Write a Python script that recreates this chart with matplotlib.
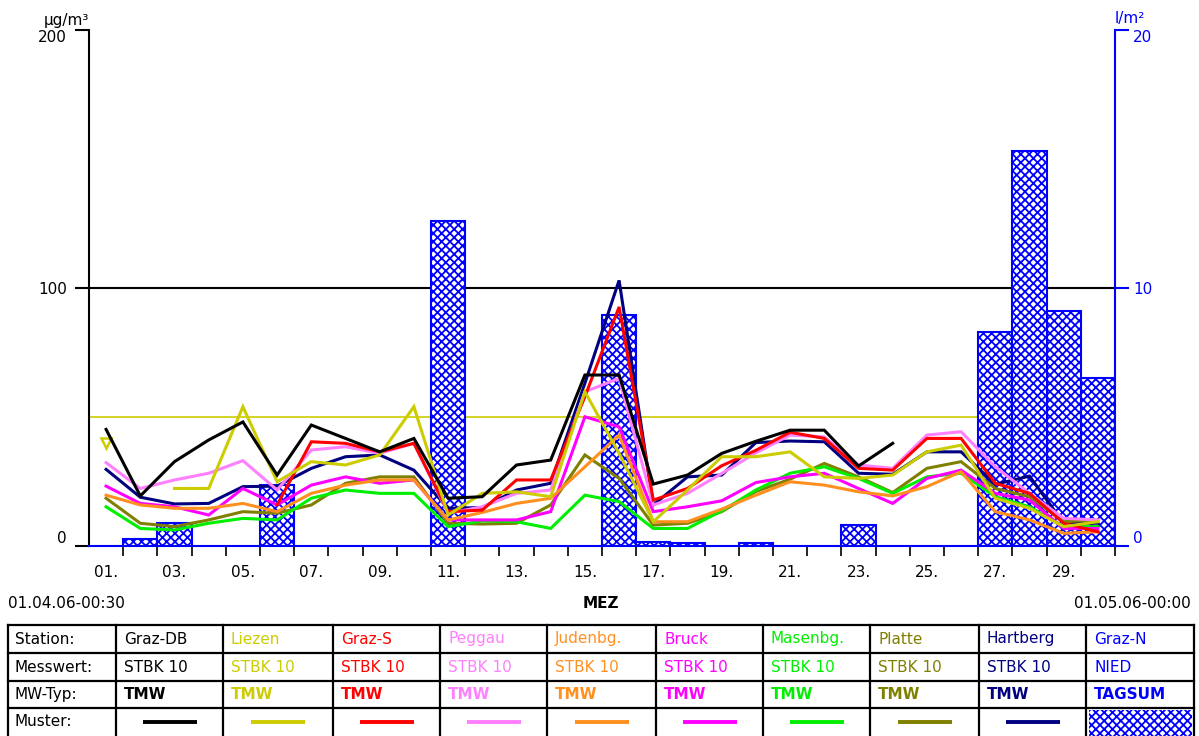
import numpy as np
import matplotlib
matplotlib.use('Agg')
import matplotlib.pyplot as plt
from matplotlib.patches import Rectangle
from matplotlib.lines import Line2D

plt.rcParams['font.family'] = ['DejaVu Sans']
plt.rcParams['hatch.linewidth'] = 1.3

nan = np.nan
days = np.arange(1, 31)
day_labels = [f"{d:02d}." for d in range(1, 31, 2)]

graz_db = [45.1, 19.3, 32.6, 41.0, 48.0, 27.4, 46.8, 41.6, 36.4, 41.6, 18.4, 19.0, 31.3, 33.2, 66.2, 66.2,
           23.9, 27.4, 35.8, 40.5, 44.8, 44.8, 30.9, 39.7, nan, nan, nan, nan, nan, nan]
liezen = [39.7, nan, 22.2, 22.2, 53.9, 24.8, 32.6, 31.3, 35.2, 53.9, 11.9, 20.3, 20.9, 19.0, 59.7, 35.8,
          9.3, 21.6, 34.5, 34.5, 36.4, 26.7, 26.1, 27.4, 36.4, 39.0, 18.4, 14.5, 7.4, 9.3]
graz_s = [nan, nan, nan, nan, nan, 15.8, 40.3, 39.7, 36.4, 39.7, 13.2, 13.8, 25.5, 25.5, 57.8, 92.6,
          17.7, 22.2, 31.0, 37.0, 44.0, 41.6, 30.0, 29.3, 41.6, 41.6, 24.2, 20.3, 8.7, 5.4]
peggau = [32.2, 22.2, 25.5, 28.1, 33.0, 21.6, 37.1, 38.4, 35.8, 39.7, 12.6, 15.1, 20.3, 21.6, 59.7, 64.9,
          15.8, 20.3, 28.0, 36.0, 42.9, 42.2, 31.3, 30.0, 42.9, 44.2, 30.6, 20.3, 10.6, 10.0]
judenbg = [19.6, 15.8, 14.5, 14.5, 16.4, 13.2, 20.3, 23.5, 25.5, 25.5, 10.0, 12.9, 16.4, 18.4, 30.6, 42.9,
           9.3, 9.3, 14.2, 19.6, 24.8, 23.5, 20.9, 19.3, 22.9, 28.7, 13.2, 10.0, 4.8, 5.4]
bruck = [23.1, 16.4, 15.1, 11.9, 22.2, 15.8, 23.5, 26.7, 24.2, 25.5, 10.0, 10.0, 10.0, 13.2, 50.0, 46.1,
         13.2, 15.1, 17.4, 24.5, 26.7, 28.1, 22.2, 16.4, 26.1, 29.3, 20.3, 17.7, 6.7, 6.7]
masenbg = [15.1, 6.7, 6.1, 8.7, 10.6, 10.0, 18.4, 21.6, 20.3, 20.3, 7.4, 9.6, 9.3, 6.7, 19.6, 17.1,
           6.7, 6.7, 13.5, 21.6, 28.1, 30.6, 26.1, 20.3, 26.7, 28.1, 19.0, 15.1, 7.4, 7.4]
platte = [18.4, 8.7, 7.4, 10.0, 13.2, 12.6, 15.8, 24.2, 26.7, 26.7, 8.7, 8.4, 8.7, 15.8, 35.2, 26.1,
          8.0, 8.7, 13.2, 21.0, 25.8, 31.9, 26.7, 20.6, 30.0, 32.6, 22.2, 19.0, 9.3, 10.0]
hartberg = [29.6, 18.8, 16.2, 16.4, 22.9, 23.1, 30.0, 34.5, 35.2, 29.3, 14.5, 14.8, 21.6, 24.2, 63.0, 102.9,
            15.8, 26.7, 27.4, 40.0, 40.6, 40.3, 28.1, 27.7, 36.4, 36.4, 23.8, 27.0, 8.7, 8.7]
graz_n_precip = [0, 0.25, 0.87, 0, 0, 2.35, 0, 0, 0, 0, 12.6, 0, 0, 0, 0, 8.94,
                 0.15, 0.1, 0, 0.1, 0, 0, 0.8, 0, 0, 0, 8.3, 15.3, 9.1, 6.5]

limit_value = 50
ref_value = 100

stations = ["Graz-DB", "Liezen", "Graz-S", "Peggau", "Judenbg.", "Bruck", "Masenbg.", "Platte", "Hartberg", "Graz-N"]
messwert = ["STBK 10"] * 9 + ["NIED"]
mwtyp = ["TMW"] * 9 + ["TAGSUM"]
row_labels = ["Station:", "Messwert:", "MW-Typ:", "Muster:"]
colors = ["#000000", "#CCCC00", "#FF0000", "#FF80FF", "#FF9020", "#FF00FF", "#00EE00", "#808000", "#000080", "#0000FF"]
series = [graz_db, liezen, graz_s, peggau, judenbg, bruck, masenbg, platte, hartberg]

W, H = 1199, 736
fig = plt.figure(figsize=(W / 100, H / 100), dpi=100)
L, R, T, B = 89, 1115, 30, 545.7
rect = [L / W, 1 - B / H, (R - L) / W, (B - T) / H]
FS = 11

ax = fig.add_axes(rect)
ax.set_xlim(0.5, 30.5)
ax.set_ylim(0, 200)
ax.axhline(ref_value, color='black', lw=1.5, zorder=1)
ax.axhline(limit_value, color='#CCCC00', lw=1.2, zorder=1)
for s in ['top', 'right']:
    ax.spines[s].set_visible(False)
ax.spines['left'].set_linewidth(1.5)
ax.spines['bottom'].set_color('#0000FF')
ax.spines['bottom'].set_linewidth(1.5)
ax.set_yticks([0, 100, 200])
ax.set_yticklabels(['0', '100', '200'])
ax.tick_params(axis='y', length=10, width=1.5, pad=6, labelsize=FS)
labs = ax.get_yticklabels()
labs[0].set_va('bottom')
labs[2].set_va('top')
ax.yaxis.get_major_ticks()[0].tick1line.set_color('#0000FF')
ax.set_xticks(np.arange(1, 31, 2))
ax.set_xticklabels(day_labels)
ax.set_xticks(np.arange(1.5, 31, 1), minor=True)
ax.tick_params(axis='x', which='major', length=0, pad=14, labelsize=FS)
ax.tick_params(axis='x', which='minor', length=7, width=1.2, color='black')

ax2 = ax.twinx()
ax2.set_ylim(0, 20)
ax2.set_xlim(0.5, 30.5)
pr = np.array(graz_n_precip, dtype=float)
mask = pr > 0
ax2.bar(days[mask], pr[mask], width=1.0, facecolor='white', edgecolor='#0000FF',
        hatch='xxxx', linewidth=1.5)
for s in ['top', 'left', 'bottom']:
    ax2.spines[s].set_visible(False)
ax2.spines['right'].set_color('#0000FF')
ax2.spines['right'].set_linewidth(1.5)
ax2.set_yticks([0, 10, 20])
ax2.set_yticklabels(['0', '10', '20'])
ax2.tick_params(axis='y', length=10, width=1.5, pad=3, labelsize=FS, color='#0000FF', labelcolor='#0000FF')
labs2 = ax2.get_yticklabels()
labs2[0].set_va('bottom')
labs2[2].set_va('top')

ax3 = ax.twinx()
ax3.set_ylim(0, 200)
ax3.set_xlim(0.5, 30.5)
ax3.axis('off')
for vals, c in reversed(list(zip(series, colors[:9]))):
    v = np.array(vals, dtype=float)
    ax3.plot(days, v, color=c, lw=2.2, solid_joinstyle='miter')
    fin = np.isfinite(v)
    prev = np.r_[False, fin[:-1]]
    nxt = np.r_[fin[1:], False]
    iso = fin & ~prev & ~nxt
    if iso.any():
        ax3.plot(days[iso], v[iso], ls='none', marker='v', ms=7, mfc='none', mec=c, mew=1.8)

def ft(x, y, s, **kw):
    fig.text(x / W, 1 - y / H, s, fontsize=kw.pop('fontsize', FS), **kw)

ft(89, 20, "µg/m³", ha='right', va='center')
ft(1115, 18, "l/m²", ha='left', va='center', color='#0000FF')
ft(8, 604, "01.04.06-00:30", ha='left', va='center')
ft(601, 604, "MEZ", ha='center', va='center', fontweight='bold')
ft(1191, 604, "01.05.06-00:00", ha='right', va='center')

axT = fig.add_axes([0, 0, 1, 1], zorder=5)
axT.set_xlim(0, W)
axT.set_ylim(H, 0)
axT.axis('off')
cols = [8, 116, 223, 333, 440, 547, 656, 763, 870, 979, 1086, 1194]
rows = [625, 653, 681, 708, 745]
for y in rows:
    axT.add_line(Line2D([cols[0], cols[-1]], [y, y], color='black', lw=1.6))
for x in cols:
    axT.add_line(Line2D([x, x], [rows[0], rows[-1]], color='black', lw=1.6))
for i, lab in enumerate(row_labels):
    yc = (rows[i] + rows[i + 1]) / 2
    if i == 3:
        yc = 721
    axT.text(cols[0] + 7, yc, lab, ha='left', va='center', fontsize=FS)
for j in range(10):
    x0 = cols[j + 1] + 8
    c = colors[j]
    axT.text(x0, (rows[0] + rows[1]) / 2, stations[j], ha='left', va='center', fontsize=FS, color=c)
    axT.text(x0, (rows[1] + rows[2]) / 2, messwert[j], ha='left', va='center', fontsize=FS, color=c)
    axT.text(x0, (rows[2] + rows[3]) / 2, mwtyp[j], ha='left', va='center', fontsize=FS, color=c,
             fontweight='bold')
    cx = (cols[j + 1] + cols[j + 2]) / 2
    if j < 9:
        axT.add_line(Line2D([cx - 27, cx + 27], [721.5, 721.5], color=c, lw=2.8, solid_capstyle='butt'))
    else:
        axT.add_patch(Rectangle((cols[j + 1] + 3, rows[3] + 2), cols[j + 2] - cols[j + 1] - 5, 40,
                                facecolor='white', edgecolor='#0000FF', hatch='xxxx', lw=0))

fig.savefig('out.png', dpi=100)
